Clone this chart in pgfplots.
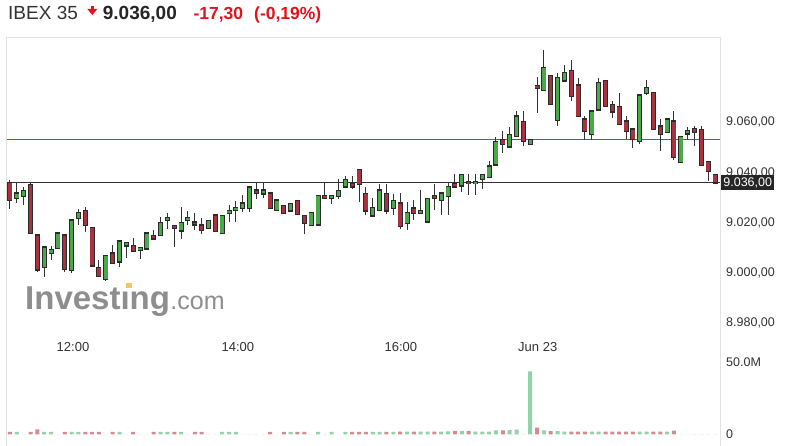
\documentclass[border=0pt]{standalone}
\usepackage{fontspec}
\setmainfont{Liberation Sans}
\usepackage{pgfplots}
\usepackage{pgfplotstable}
\pgfplotsset{compat=1.18}
\definecolor{upfill}{HTML}{4AA84A}
\definecolor{downfill}{HTML}{A8323E}
\definecolor{edgecol}{HTML}{2B2B2B}
\definecolor{wickcol}{HTML}{333333}
\definecolor{volup}{HTML}{93D3A9}
\definecolor{voldown}{HTML}{D38B96}
\definecolor{framecol}{HTML}{E3E3E3}
\definecolor{labcol}{HTML}{333333}
\definecolor{hdrred}{HTML}{E3131E}
\definecolor{closeline}{RGB}{230,40,40}
\definecolor{logogray}{HTML}{8E8E8E}
\definecolor{logoorange}{HTML}{F6C36B}

% up candles: i open high low close volume(M)
\pgfplotstableread{
i O H L C V
1 9029.8 9036.3 9027.9 9032.0 1.8
2 9030.8 9034.4 9027.4 9033.1 0
5 9002.2 9010.5 8998.6 9010.5 1.8
6 9007.9 9010.8 9005.5 9009.5 1.8
7 9009.9 9016.1 9009.9 9016.1 0
9 9001.2 9021.2 8999.9 9021.2 1.8
10 9021.8 9025.5 9019.2 9024.2 1.8
14 8997.5 9007.2 8996.9 9007.2 0
16 9004.5 9012.9 9002.5 9012.9 1.8
17 9010.8 9012.1 9006.3 9012.1 0
19 9009.2 9010.3 9005.5 9010.3 0
20 9009.7 9016.1 9009.7 9016.1 0
22 9014.9 9022.5 9014.9 9020.2 1.8
23 9020.9 9024.1 9017.8 9022.2 1.8
25 9016.9 9026.2 9013.5 9020.2 1.8
26 9020.9 9024.9 9019.2 9022.1 0
29 9017.8 9020.9 9017.8 9020.9 0
31 9015.9 9022.9 9015.9 9022.9 1.8
32 9023.8 9027.1 9020.5 9025.1 1.8
33 9024.9 9028.7 9020.5 9026.1 1.8
34 9025.8 9031.1 9024.5 9028.0 0
35 9025.8 9034.4 9024.5 9034.4 0
37 9031.5 9036.4 9030.2 9033.1 0
39 9024.9 9029.1 9024.9 9029.1 0
41 9024.9 9028.0 9024.9 9028.0 1.8
44 9018.8 9024.1 9018.8 9024.1 0
45 9019.2 9031.1 9019.2 9031.1 1.8
47 9029.8 9031.1 9027.4 9031.1 1.8
48 9030.7 9037.4 9029.8 9033.1 0
49 9034.4 9038.7 9034.4 9037.4 1.8
53 9022.7 9030.0 9022.7 9026.1 1.8
54 9024.9 9035.4 9024.9 9033.1 1.8
56 9025.8 9031.4 9023.1 9028.8 1.8
58 9019.8 9028.4 9017.5 9024.1 2.0
60 9023.8 9033.1 9023.8 9025.1 2.0
61 9020.5 9030.0 9020.5 9030.0 2.0
63 9029.1 9032.0 9023.4 9032.0 2.0
64 9030.7 9036.2 9023.4 9034.7 2.2
66 9034.7 9039.4 9032.4 9039.4 2.5
68 9035.5 9039.4 9031.4 9036.4 2.0
69 9037.4 9039.4 9033.4 9039.4 2.0
70 9038.2 9044.7 9038.2 9042.7 2.0
71 9043.1 9054.3 9043.1 9052.4 2.8
73 9050.4 9058.3 9050.4 9055.3 3.0
74 9054.3 9064.6 9054.3 9062.6 3.3
76 9051.3 9053.3 9051.3 9053.3 43.5
78 9072.7 9088.9 9072.7 9082.0 2.8
80 9061.0 9079.8 9058.6 9078.0 2.4
81 9076.5 9082.9 9076.5 9080.0 2.0
85 9055.3 9064.6 9053.0 9064.6 2.0
86 9065.0 9077.8 9065.0 9075.9 2.0
92 9052.4 9071.0 9051.5 9071.0 2.0
93 9071.6 9076.9 9071.0 9074.0 2.0
96 9056.1 9061.4 9056.1 9061.4 2.0
98 9044.0 9054.6 9044.0 9054.6 0
99 9055.3 9058.3 9053.0 9056.6 0
}\upc

% down candles
\pgfplotstableread{
i O H L C V
0 9036.3 9037.1 9025.5 9029.1 1.8
3 9035.5 9036.3 9015.9 9015.9 1.8
4 9015.2 9015.2 9000.5 9001.2 3.6
8 9015.2 9015.2 9000.6 9001.5 1.8
11 9025.1 9026.5 9016.5 9019.2 1.8
12 9018.2 9018.2 9002.8 9002.8 1.8
13 9002.2 9005.2 8998.8 8998.8 1.8
15 9008.1 9011.2 9003.9 9003.9 1.8
18 9011.1 9014.1 9008.8 9008.8 1.8
21 9015.1 9017.2 9013.7 9013.7 1.8
24 9019.2 9019.2 9010.5 9017.8 1.8
27 9020.4 9023.9 9017.2 9019.2 1.8
28 9019.2 9022.1 9015.5 9016.9 1.8
30 9023.1 9023.1 9016.5 9016.5 0
36 9033.1 9036.4 9029.4 9031.8 0
38 9032.0 9032.0 9025.8 9025.8 1.8
40 9027.1 9027.1 9023.8 9023.8 1.8
42 9029.1 9029.1 9023.5 9023.5 1.8
43 9023.1 9023.1 9015.5 9019.8 1.8
46 9031.1 9035.8 9029.8 9029.8 0
50 9035.8 9038.7 9033.4 9034.4 1.8
51 9041.5 9041.5 9028.4 9035.5 1.8
52 9032.0 9034.4 9023.4 9024.9 1.8
55 9032.0 9035.4 9023.4 9024.9 1.8
57 9028.0 9032.0 9017.8 9018.8 2.0
59 9026.1 9029.1 9021.4 9023.8 2.0
62 9031.1 9035.4 9025.1 9029.8 2.0
65 9035.8 9039.4 9034.4 9034.4 2.5
67 9036.4 9039.4 9031.4 9035.5 2.5
72 9053.3 9056.6 9047.7 9051.3 2.8
75 9060.6 9064.6 9050.6 9052.4 0
77 9074.9 9078.2 9063.7 9073.6 4.8
79 9078.9 9078.9 9067.3 9067.3 2.4
82 9080.9 9084.9 9068.6 9070.6 2.0
83 9074.9 9077.8 9062.3 9062.3 2.0
84 9061.4 9062.6 9053.0 9056.3 2.0
87 9076.9 9076.9 9066.3 9066.3 2.0
88 9067.4 9068.6 9061.7 9064.3 2.0
89 9066.6 9071.9 9059.3 9059.3 2.0
90 9060.6 9062.6 9053.7 9056.3 2.0
91 9057.4 9057.4 9049.7 9053.3 2.0
94 9072.0 9072.0 9057.3 9057.3 2.0
95 9058.6 9061.4 9048.8 9055.3 2.0
97 9060.6 9064.6 9045.1 9046.1 2.6
100 9057.7 9058.6 9050.6 9056.1 0
101 9057.4 9058.6 9043.1 9043.1 0
102 9044.4 9044.4 9036.7 9040.4 0
103 9039.4 9039.4 9035.4 9036.0 0
}\downc

\pgfplotsset{
  candlewick/.style={forget plot, draw=none, mark=none,
    error bars/.cd, y dir=both, y explicit, error mark=none,
    error bar style={line width=1pt, draw=wickcol, solid}},
  candlebody/.style 2 args={forget plot, draw=none, mark=none,
    error bars/.cd, y dir=both, y explicit, error mark=none,
    error bar style={line width=#1, draw=#2, solid}},
  ticklab/.style={font=\fontsize{12.5}{12.5}\selectfont, text=labcol},
}

\begin{document}
\begin{tikzpicture}
\fill[white] (0pt,0pt) rectangle (800pt,446pt);
\useasboundingbox (0pt,0pt) rectangle (800pt,446pt);

% ---------- price panel ----------
\begin{axis}[
  at={(6pt,91pt)}, anchor=south west,
  scale only axis, width=714.7pt, height=317.7pt,
  xmin=-0.584, xmax=103.83, ymin=8967.4, ymax=9093.9,
  axis line style={draw=none}, major tick length=0pt,
  xtick={9.2,33.3,57.1,77.1},
  xticklabels={12:00,14:00,16:00,Jun 23},
  xticklabel style={font=\fontsize{13}{13}\selectfont, text=labcol, anchor=center, yshift=8pt},
  ytick={8980,9000,9020,9040,9060},
  yticklabels={{8.980,00},{9.000,00},{9.020,00},{9.040,00},{9.060,00}},
  yticklabel pos=right,
  yticklabel style={ticklab, anchor=west, xshift=2pt},
  extra y ticks={9053.3},
  extra y tick labels={},
  extra y tick style={ymajorgrids=true, major grid style={draw=closeline, line width=1.2pt, opacity=1}},
]
% last price line (9.036,00)
\addplot[forget plot, color=wickcol, line width=1pt, mark=none, solid] coordinates {(-0.584,9036.0) (103.83,9036.0)};

\addplot[candlewick] table[x=i, y expr={(\thisrow{H}+\thisrow{L})/2}, y error expr={(\thisrow{H}-\thisrow{L})/2}] {\upc};
\addplot[candlewick] table[x=i, y expr={(\thisrow{H}+\thisrow{L})/2}, y error expr={(\thisrow{H}-\thisrow{L})/2}] {\downc};

\addplot[candlebody={5pt}{edgecol}] table[x=i, y expr={(\thisrow{O}+\thisrow{C})/2}, y error expr={abs(\thisrow{C}-\thisrow{O})/2+0.25}] {\upc};
\addplot[candlebody={5pt}{edgecol}] table[x=i, y expr={(\thisrow{O}+\thisrow{C})/2}, y error expr={abs(\thisrow{C}-\thisrow{O})/2+0.25}] {\downc};
\addplot[candlebody={3.4pt}{upfill}] table[x=i, y expr={(\thisrow{O}+\thisrow{C})/2}, y error expr={max(abs(\thisrow{C}-\thisrow{O})/2-0.25,0)}] {\upc};
\addplot[candlebody={3.4pt}{downfill}] table[x=i, y expr={(\thisrow{O}+\thisrow{C})/2}, y error expr={max(abs(\thisrow{C}-\thisrow{O})/2-0.25,0)}] {\downc};

\coordinate (lastprice) at (axis cs:103.83,9036.0);
\end{axis}

% ---------- volume panel ----------
\begin{axis}[
  at={(6pt,0pt)}, anchor=south west,
  scale only axis, width=714.7pt, height=91pt,
  xmin=-0.584, xmax=103.83, ymin=-7.93, ymax=54.83,
  axis line style={draw=none}, major tick length=0pt,
  xtick=\empty,
  ytick={0,50}, yticklabels={0,50.0M},
  yticklabel pos=right,
  yticklabel style={ticklab, anchor=west, xshift=2pt},
]
\addplot[ybar, bar width=4pt, bar shift=0pt, fill=volup, draw=none] table[x=i, y=V] {\upc};
\addplot[ybar, bar width=4pt, bar shift=0pt, fill=voldown, draw=none] table[x=i, y=V] {\downc};
\end{axis}

% frame
\draw[framecol, line width=1pt] (6.5pt,0pt) -- (6.5pt,408.7pt) -- (720.7pt,408.7pt) -- (720.7pt,0pt);

% last price tag
\node[anchor=west, fill=black!85, text=white, inner xsep=2.3pt, inner ysep=0pt,
      minimum height=15pt, font=\fontsize{12.5}{12.5}\selectfont] at ([xshift=0.2pt]lastprice) {9.036,00};

% header
\node[anchor=base west, inner sep=0pt, text=labcol, font=\fontsize{19}{19}\selectfont] at (8pt,426pt) {IBEX 35};
\fill[hdrred] (90.7pt,436.5pt) rectangle (94pt,440pt);
\fill[hdrred] (87.3pt,437pt) -- (97.3pt,437pt) -- (92.3pt,431pt) -- cycle;
\node[anchor=base west, inner sep=0pt, text=black!85, font=\fontsize{19}{19}\selectfont\bfseries] at (102.7pt,426pt) {9.036,00};
\node[anchor=base west, inner sep=0pt, text=hdrred, font=\fontsize{17.5}{17.5}\selectfont\bfseries] at (193.3pt,426pt) {-17,30};
\node[anchor=base west, inner sep=0pt, text=hdrred, font=\fontsize{17.5}{17.5}\selectfont\bfseries] at (254pt,426pt) {(-0,19\%)};

% watermark
\node[anchor=base west, inner sep=0pt, text=logogray, font=\fontsize{33}{33}\selectfont\bfseries] (logo) at (25pt,136pt) {Invest\i ng};
\node[anchor=base west, inner sep=0pt, text=logogray, font=\fontsize{25}{25}\selectfont] at (logo.base east) {.com};
\fill[logoorange] (126pt,157.7pt) rectangle (131.7pt,162.7pt);
\end{tikzpicture}
\end{document}
